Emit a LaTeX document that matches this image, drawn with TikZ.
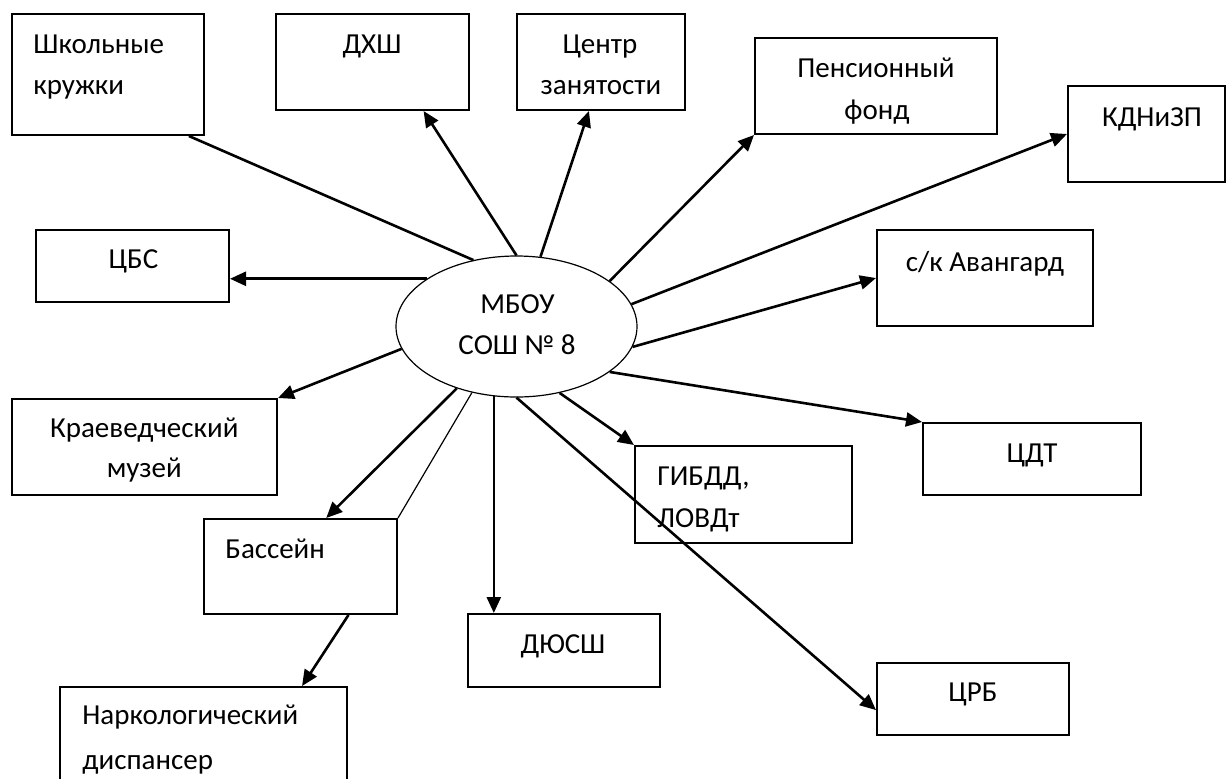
\documentclass[tikz,border=0pt]{standalone}
\usepackage{fontspec}
\setmainfont{Carlito}
\usetikzlibrary{arrows.meta,shapes.geometric,calc}
\begin{document}
\begin{tikzpicture}[x=0.5pt,y=-0.5pt,
  box/.style={draw,line width=1pt,rectangle,inner sep=0pt},
  lbl/.style={inner sep=0pt,font=\fontsize{14.5}{17}\selectfont},
  link/.style={line width=1.3pt},
  arr/.style={line width=1.3pt,-{Triangle[length=8pt,width=7pt]}},
  thinlink/.style={line width=0.6pt}]
\useasboundingbox[fill=white] (0,0) rectangle (1227,778);

% boxes
\node[box,minimum width=96pt,minimum height=60.5pt] (shk) at (108,74.5) {};
\node[box,minimum width=96.5pt,minimum height=48pt] (dxsh) at (372.5,62) {};
\node[box,minimum width=84pt,minimum height=48pt] (czan) at (601,62) {};
\node[box,minimum width=121pt,minimum height=48pt] (pens) at (876,86) {};
\node[box,minimum width=78.5pt,minimum height=48pt] (kdn) at (1146.5,134) {};
\node[box,minimum width=108pt,minimum height=48pt] (sk) at (985,278) {};
\node[box,minimum width=96.5pt,minimum height=36pt] (cbs) at (132.5,266) {};
\node[box,minimum width=132.5pt,minimum height=48pt] (kraev) at (144.5,447) {};
\node[box,minimum width=96.5pt,minimum height=47.5pt] (bass) at (300.5,566.5) {};
\node[box,minimum width=143.5pt,minimum height=48.5pt] (nark) at (203.5,735.5) {};
\node[box,minimum width=96pt,minimum height=36.5pt] (dyus) at (564,650.5) {};
\node[box,minimum width=108.5pt,minimum height=48.5pt] (gibdd) at (743.5,494.5) {};
\node[box,minimum width=109pt,minimum height=36pt] (cdt) at (1032,459) {};
\node[box,minimum width=96pt,minimum height=36pt] (crb) at (973,699) {};
\node[draw,ellipse,line width=0.6pt,inner sep=0pt,minimum width=120.5pt,minimum height=70.5pt] (mbou) at (516.5,326.5) {};

% texts
\node[lbl,anchor=base west] (shk1) at (33,53) {Школьные};
\node[lbl,anchor=base west] (shk2) at (33,94) {кружки};
\node[lbl,anchor=base] (dxsh1) at (372,53) {ДХШ};
\node[lbl,anchor=base] (czan1) at (600,53) {Центр};
\node[lbl,anchor=base] (czan2) at (601,94) {занятости};
\node[lbl,anchor=base] (pens1) at (876,77) {Пенсионный};
\node[lbl,anchor=base] (pens2) at (877,119) {фонд};
\node[lbl,anchor=base] (kdn1) at (1152,126) {КДНиЗП};
\node[lbl,anchor=base] (sk1) at (985,271) {с/к Авангард};
\node[lbl,anchor=base] (cbs1) at (133.5,268) {ЦБС};
\node[lbl,anchor=base] (mbou1) at (517.5,313) {МБОУ};
\node[lbl,anchor=base] (mbou2) at (517,354) {СОШ № 8};
\node[lbl,anchor=base] (kraev1) at (144.3,437) {Краеведческий};
\node[lbl,anchor=base] (kraev2) at (144.3,477) {музей};
\node[lbl,anchor=base west] (bass1) at (225,558) {Бассейн};
\node[lbl,anchor=base west] (nark1) at (82,724) {Наркологический};
\node[lbl,anchor=base west] (nark2) at (82,769) {диспансер};
\node[lbl,anchor=base] (dyus1) at (563,653) {ДЮСШ};
\node[lbl,anchor=base west] (gibdd1) at (657,485) {ГИБДД,};
\node[lbl,anchor=base west] (gibdd2) at (657,527) {ЛОВДт};
\node[lbl,anchor=base] (cdt1) at (1032,462) {ЦДТ};
\node[lbl,anchor=base] (crb1) at (973,701) {ЦРБ};

% connectors
\draw[link] (mbou.123.6) -- ($(shk.south west)!0.917!(shk.south east)$);
\draw[arr] (mbou.90) -- ($(dxsh.south west)!0.762!(dxsh.south east)$);
\draw[arr] (mbou.71.8) -- ($(czan.south west)!0.429!(czan.south east)$);
\draw[arr] (mbou.26.9) -- (pens.south west);
\draw[arr] (mbou.11.2) -- (kdn.west);
\draw[arr] (mbou.-10.8) -- (sk.west);
\draw[arr] (mbou.-26) -- (cdt.north west);
\draw[arr] (mbou.-57) -- (gibdd.north west);
\draw[arr] (mbou.-90) -- ($(crb.north west)!0.65!(crb.south west)$);
\draw[arr] (mbou.-108.9) -- (mbou.-108.9 |- dyus.north);
\draw[thinlink] (mbou.-124.2) -- (bass.north east);
\draw[arr] (mbou.-134.6) -- ($(bass.north west)!0.632!(bass.north east)$);
\draw[arr] (mbou.191) -- (kraev.north east);
\draw[arr] (mbou.152.8) -- (mbou.152.8 -| cbs.east);
\draw[arr] ($(bass.south west)!0.746!(bass.south east)$) -- ($(nark.north west)!0.841!(nark.north east)$);
\end{tikzpicture}
\end{document}
